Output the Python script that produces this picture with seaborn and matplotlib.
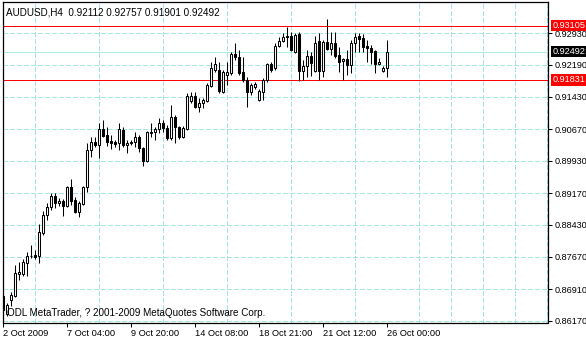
import numpy as np
import pandas as pd
import matplotlib
matplotlib.use("Agg")
import matplotlib.pyplot as plt
import matplotlib.transforms as mtransforms
from matplotlib.ticker import MultipleLocator, FixedLocator
import seaborn as sns

symbol_title = "AUDUSD,H4  0.92112 0.92757 0.91901 0.92492"
copyright_text = "ODL MetaTrader, ? 2001-2009 MetaQuotes Software Corp."

open_ = [0.8675, 0.8633, 0.8666, 0.8675, 0.8727, 0.8727, 0.8753, 0.8768, 0.8771, 0.8769,
         0.8823, 0.8865, 0.8884, 0.8910, 0.8894, 0.8898, 0.8887, 0.8931, 0.8901, 0.8872,
         0.8891, 0.8931, 0.9018, 0.9037, 0.9030, 0.9068, 0.9053, 0.9039, 0.9037, 0.9035,
         0.9065, 0.9030, 0.9035, 0.9037, 0.9049, 0.9023, 0.8992, 0.9059, 0.9060, 0.9068,
         0.9082, 0.9070, 0.9046, 0.9096, 0.9072, 0.9049, 0.9068, 0.9133, 0.9145, 0.9119,
         0.9129, 0.9133, 0.9169, 0.9206, 0.9206, 0.9154, 0.9194, 0.9199, 0.9244, 0.9237,
         0.9201, 0.9183, 0.9154, 0.9166, 0.9136, 0.9154, 0.9183, 0.9220, 0.9211, 0.9263,
         0.9274, 0.9286, 0.9286, 0.9248, 0.9291, 0.9204, 0.9216, 0.9239, 0.9204, 0.9274,
         0.9204, 0.9272, 0.9256, 0.9270, 0.9241, 0.9227, 0.9232, 0.9218, 0.9270, 0.9285,
         0.9281, 0.9263, 0.9258, 0.9251, 0.9220, 0.9204, 0.92112]
high = [0.8682, 0.8659, 0.8684, 0.8748, 0.8755, 0.8762, 0.8778, 0.8795, 0.8783, 0.8844,
        0.8875, 0.8894, 0.8917, 0.8917, 0.8905, 0.8903, 0.8934, 0.8950, 0.8908, 0.8898,
        0.8934, 0.9035, 0.9049, 0.9049, 0.9082, 0.9089, 0.9072, 0.9053, 0.9042, 0.9082,
        0.9072, 0.9042, 0.9042, 0.9060, 0.9053, 0.9025, 0.9063, 0.9082, 0.9072, 0.9093,
        0.9089, 0.9077, 0.9124, 0.9100, 0.9075, 0.9075, 0.9152, 0.9154, 0.9154, 0.9140,
        0.9140, 0.9176, 0.9225, 0.9237, 0.9225, 0.9206, 0.9225, 0.9248, 0.9270, 0.9253,
        0.9237, 0.9190, 0.9176, 0.9178, 0.9162, 0.9187, 0.9223, 0.9225, 0.9270, 0.9284,
        0.9293, 0.9307, 0.9295, 0.9293, 0.9295, 0.9230, 0.9253, 0.9248, 0.9286, 0.9293,
        0.9277, 0.9326, 0.9295, 0.9295, 0.9260, 0.9234, 0.9253, 0.9277, 0.9293, 0.9293,
        0.9291, 0.9277, 0.9265, 0.9253, 0.9234, 0.9216, 0.92757]
low = [0.8628, 0.8628, 0.8652, 0.8673, 0.8713, 0.8722, 0.8722, 0.8764, 0.8762, 0.8753,
       0.8818, 0.8854, 0.8877, 0.8882, 0.8887, 0.8863, 0.8884, 0.8889, 0.8870, 0.8861,
       0.8889, 0.8919, 0.9002, 0.9025, 0.8999, 0.9049, 0.9028, 0.9021, 0.9025, 0.9018,
       0.9025, 0.9011, 0.9030, 0.9025, 0.9013, 0.8981, 0.8990, 0.9049, 0.9042, 0.9058,
       0.9060, 0.9042, 0.9042, 0.9035, 0.9044, 0.9046, 0.9065, 0.9129, 0.9117, 0.9107,
       0.9117, 0.9131, 0.9166, 0.9201, 0.9152, 0.9152, 0.9171, 0.9194, 0.9230, 0.9194,
       0.9178, 0.9119, 0.9147, 0.9162, 0.9133, 0.9136, 0.9178, 0.9201, 0.9206, 0.9260,
       0.9272, 0.9260, 0.9251, 0.9246, 0.9180, 0.9183, 0.9190, 0.9192, 0.9201, 0.9183,
       0.9190, 0.9253, 0.9241, 0.9234, 0.9201, 0.9183, 0.9194, 0.9199, 0.9248, 0.9248,
       0.9248, 0.9225, 0.9220, 0.9199, 0.9218, 0.9201, 0.91901]
close = [0.8642, 0.8654, 0.8677, 0.8729, 0.8731, 0.8755, 0.8769, 0.8769, 0.8767, 0.8825,
         0.8865, 0.8884, 0.8910, 0.8894, 0.8898, 0.8887, 0.8931, 0.8898, 0.8872, 0.8894,
         0.8931, 0.9018, 0.9037, 0.9030, 0.9068, 0.9051, 0.9037, 0.9035, 0.9032, 0.9068,
         0.9030, 0.9035, 0.9036, 0.9049, 0.9023, 0.8992, 0.9060, 0.9060, 0.9068, 0.9082,
         0.9070, 0.9046, 0.9096, 0.9072, 0.9049, 0.9070, 0.9145, 0.9145, 0.9119, 0.9129,
         0.9136, 0.9171, 0.9211, 0.9220, 0.9157, 0.9201, 0.9201, 0.9244, 0.9237, 0.9199,
         0.9183, 0.9154, 0.9171, 0.9173, 0.9157, 0.9183, 0.9220, 0.9206, 0.9263, 0.9274,
         0.9284, 0.9283, 0.9253, 0.9288, 0.9204, 0.9216, 0.9239, 0.9223, 0.9270, 0.9204,
         0.9272, 0.9256, 0.9270, 0.9239, 0.9225, 0.9232, 0.9218, 0.9270, 0.9284, 0.9280,
         0.9260, 0.9257, 0.9248, 0.9220, 0.9225, 0.9211, 0.92492]

time_labels = ["2 Oct 2009", "7 Oct 04:00", "9 Oct 20:00", "14 Oct 08:00",
               "18 Oct 21:00", "21 Oct 12:00", "26 Oct 00:00"]
label_bars = [0, 16, 32, 48, 64, 80, 96]
price_ticks = [0.92930, 0.92190, 0.91430, 0.90670, 0.89930,
               0.89170, 0.88430, 0.87670, 0.86910, 0.86170]
level_high = 0.93105
level_low = 0.91831
bid_price = 0.92492

sns.set_theme(style="white")
plt.rcParams['font.family'] = ['Liberation Sans', 'DejaVu Sans']

W, H = 586, 340
fig = plt.figure(figsize=(W / 100, H / 100), dpi=100)
fig.patch.set_facecolor('white')
ax = fig.add_axes([3 / W, (H - 322.5) / H, 545 / W, 320.5 / H])
ax.set_facecolor('white')

df = pd.DataFrame(dict(bar=np.arange(len(open_)), open=open_, high=high,
                       low=low, close=close))
df['up'] = df['close'] >= df['open']
df['body_lo'] = df[['open', 'close']].min(axis=1)
df['body_h'] = (df['close'] - df['open']).abs()

grid_color = '#a4e4e4'
dash = (0, (4.2, 2.2))

ax.set_xlim(-0.1, 136.15)
ax.set_ylim(0.86128, 0.936595)

ax.xaxis.set_major_locator(FixedLocator(label_bars))
ax.xaxis.set_minor_locator(MultipleLocator(8))
ax.set_xticklabels(time_labels)
ax.set_yticks(price_ticks)
ax.set_yticklabels([f"{p:.5f}" for p in price_ticks])
ax.yaxis.tick_right()
ax.grid(False)

ax.tick_params(axis='x', which='major', direction='out', length=3, width=0.75,
               pad=1.5, labelsize=6.7, color='black', labelcolor='black',
               bottom=True)
ax.tick_params(axis='x', which='minor', length=0)
ax.tick_params(axis='y', which='major', direction='out', length=3, width=0.75,
               pad=1.5, labelsize=6.6, color='black', labelcolor='black',
               right=True, left=False)
for lab in ax.get_xticklabels():
    lab.set_horizontalalignment('left')

# dashed grid drawn at the axis tick locations
for gx in ax.xaxis.get_minorticklocs():
    ax.axvline(gx, color=grid_color, lw=0.7, ls=dash, antialiased=False, zorder=0.5)
for gy in ax.get_yticks():
    ax.axhline(gy, color=grid_color, lw=0.7, ls=dash, antialiased=False, zorder=0.5)

for s in ax.spines.values():
    s.set_visible(True)
    s.set_color('black')
    s.set_linewidth(0.9)

ax.axhline(bid_price, color='#a8ecec', lw=0.7, zorder=1, antialiased=False)
ax.axhline(level_high, color='#ff0000', lw=0.7, zorder=1, antialiased=False)
ax.axhline(level_low, color='#ff0000', lw=0.7, zorder=1, antialiased=False)

ax.vlines(df['bar'], df['low'], df['high'], color='black', lw=0.75, zorder=3)
ax.bar(df['bar'], df['body_h'], bottom=df['body_lo'], width=0.5,
       color=np.where(df['up'], 'white', 'black'), edgecolor='black',
       linewidth=0.75, zorder=4)

fig.text(6 / W, 1 - 15.3 / H, symbol_title, fontsize=7.1, va='baseline',
         ha='left', color='black')
fig.text(7 / W, 1 - 316.5 / H, copyright_text, fontsize=7.1, va='baseline',
         ha='left', color='black')

trans = mtransforms.blended_transform_factory(fig.transFigure, ax.transData)
for val, bg in [(level_high, '#ff0000'), (bid_price, 'black'), (level_low, '#ff0000')]:
    ax.text(552.5 / W, val, f"{val:.5f}", transform=trans, fontsize=6.6,
            color='white', va='center', ha='left', zorder=10, clip_on=False,
            bbox=dict(facecolor=bg, edgecolor='none', pad=0.9))

fig.savefig('out.png', dpi=100, facecolor='white')
